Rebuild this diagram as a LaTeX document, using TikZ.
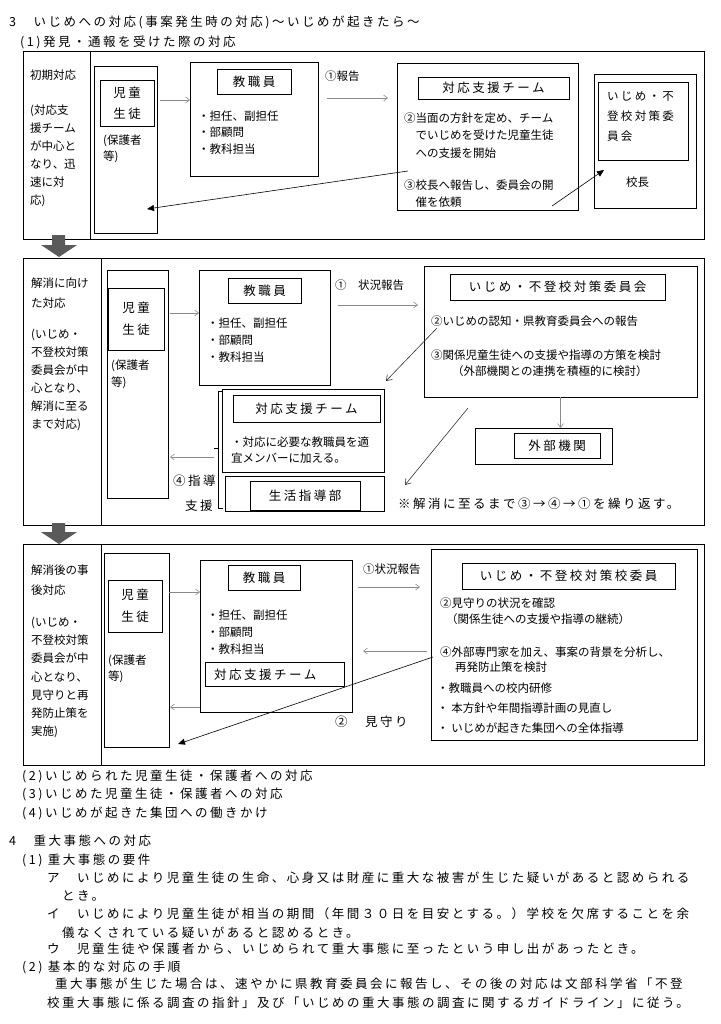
\documentclass[tikz,border=0pt]{standalone}
\usepackage{fontspec}
\setmainfont{Noto Sans CJK JP}
\newfontfamily\jpsp[LetterSpace=20]{Noto Sans CJK JP}
\newcommand{\boxfont}[1][18]{\fontsize{11.5}{#1}\selectfont}
\newcommand{\bodyfont}[1][18]{\jpsp\fontsize{12.5}{#1}\selectfont}
\usetikzlibrary{arrows.meta}
\definecolor{darkarrow}{HTML}{5A5A5A}
\definecolor{thinarrow}{HTML}{8A8A8A}

\begin{document}
\begin{tikzpicture}[x = 1pt, y = -1pt,
    box/.style = {draw, line width = 0.8pt, anchor = north west, inner sep = 0pt, outer sep = 0pt},
    head/.style = {box, font = \bodyfont},
    kid/.style = {box, align = left, font = {\bodyfont[21]}},
    body/.style = {anchor = base west, inner sep = 0pt, font = \bodyfont},
    small/.style = {anchor = base west, inner sep = 0pt, font = \boxfont},
    column/.style = {anchor = north west, inner sep = 0pt, align = left, font = \boxfont},
    grayarrow/.style = {-{Straight Barb[length = 4pt, width = 6pt]}, thinarrow, line width = 0.6pt},
    openarrow/.style = {-{Straight Barb[length = 5pt, width = 7pt]}, black!80, line width = 0.6pt},
    solidarrow/.style = {-{Triangle[length = 7pt, width = 6pt]}, line width = 0.6pt}]
    \useasboundingbox (0,0) rectangle (720,1024);

    \node[body] (title) at (9,27) {3　いじめへの対応(事案発生時の対応)～いじめが起きたら～};
    \node[body] (sub1) at (20,47) {(1)発見・通報を受けた際の対応};

    % first stage
    \node[box, minimum width = 681pt, minimum height = 188pt] (frameA) at (23,51) {};
    \draw[line width = 0.8pt] (90,51) -- (90,239);
    \node[small] (initA) at (30,80) {初期対応};
    \node[column] (noteA) at (30,104.5) {(対応支\\援チーム\\が中心と\\なり、迅\\速に対\\応)};
    \node[box, minimum width = 63pt, minimum height = 167pt] (stuA) at (94,66) {};
    \node[kid, minimum width = 54pt, minimum height = 46pt] (kidA) at (100,80) {児童\\生徒};
    \node[column, font = {\boxfont[16]}] (parA) at (103,134.5) {(保護者\\等)};
    \node[box, minimum width = 128pt, minimum height = 114pt] (tchA) at (190,62) {};
    \node[head, minimum width = 74pt, minimum height = 25pt] (tchAh) at (217,69) {教職員};
    \node[column, font = {\boxfont[16.5]}] (tchAl) at (198,110.5) {・担任、副担任\\・部顧問\\・教科担当};
    \node[small] (repA) at (325,81) {①報告};
    \node[box, minimum width = 181pt, minimum height = 147pt] (teamA) at (397,63) {};
    \node[head, minimum width = 151pt, minimum height = 22pt] (teamAh) at (418,77) {対応支援チーム};
    \node[column, font = {\boxfont[17.5]}] (teamAt) at (404,112.5) {②当面の方針を定め、チーム\\　でいじめを受けた児童生徒\\　への支援を開始};
    \node[column, font = {\boxfont[17.5]}] (teamAs) at (404,179.5) {③校長へ報告し、委員会の開\\　催を依頼};
    \node[box, minimum width = 102pt, minimum height = 134pt] (cmtA) at (594,74) {};
    \node[box, minimum width = 90pt, minimum height = 78pt] (cmtAin) at (598,82) {};
    \node[column, font = {\jpsp\fontsize{11.5}{20}\selectfont}] (cmtAt) at (607,91.5) {いじめ・不\\登校対策委\\員会};
    \node[small] (headA) at (626,187) {校長};
    \coordinate (fromA) at (408,171);
    \coordinate (toA) at (147,209);
    \coordinate (upA) at (552,206);
    \coordinate (tipA) at (604,170);
    \draw[grayarrow, shorten <= 3pt] (stuA.east |- 0,100) -- (tchA.west |- 0,100);
    \draw[grayarrow, shorten <= 9pt, shorten >= 9pt] (tchA.east |- 0,98) -- (teamA.west |- 0,98);
    \draw[solidarrow] (fromA) -- (toA);
    \draw[solidarrow] (upA) -- (tipA);

    \fill[darkarrow] (52,235) -- (65,235) -- (65,245) -- (77,245) -- (59,257) -- (41,245) -- (52,245) -- cycle;

    % second stage
    \node[box, minimum width = 681pt, minimum height = 267pt] (frameB) at (23,258) {};
    \draw[line width = 0.8pt] (101,258) -- (101,525);
    \node[column, font = {\boxfont[20]}] (initB) at (31,277.5) {解消に向け\\た対応};
    \node[column] (noteB) at (31,328.5) {(いじめ・\\不登校対策\\委員会が中\\心となり、\\解消に至る\\まで対応)};
    \node[box, minimum width = 61pt, minimum height = 228pt] (stuB) at (107,270) {};
    \node[kid, minimum width = 56pt, minimum height = 62pt, font = {\bodyfont[22]}] (kidB) at (108,288) {児童\\生徒};
    \node[column, font = {\boxfont[17]}] (parB) at (111,359.5) {(保護者\\等)};
    \node[box, minimum width = 131pt, minimum height = 115pt] (tchB) at (199,270) {};
    \node[head, minimum width = 73pt, minimum height = 25pt] (tchBh) at (228,278) {教職員};
    \node[column, font = {\boxfont[17]}] (tchBl) at (207,317.5) {・担任、副担任\\・部顧問\\・教科担当};
    \node[small] (repB) at (335,289) {①　状況報告};
    \node[box, minimum width = 273pt, minimum height = 131pt] (cmtB) at (424,266) {};
    \node[head, minimum width = 215pt, minimum height = 26pt] (cmtBh) at (450,274) {いじめ・不登校対策委員会};
    \node[small] (cmtB2) at (431,325) {②いじめの認知・県教育委員会への報告};
    \node[small] (cmtB3) at (431,359) {③関係児童生徒への支援や指導の方策を検討};
    \node[small] (cmtB4) at (452,375) {（外部機関との連携を積極的に検討）};
    \node[box, minimum width = 162pt, minimum height = 83pt] (teamB) at (222,389) {};
    \node[head, minimum width = 147pt, minimum height = 27pt] (teamBh) at (233,395) {対応支援チーム};
    \node[column, font = {\boxfont[16.5]}] (teamBt) at (231,436.5) {・対応に必要な教職員を適\\宜メンバーに加える。};
    \node[box, minimum width = 159pt, minimum height = 35pt] (shidoB) at (225,476) {};
    \node[head, minimum width = 110pt, minimum height = 29pt] (shidoBh) at (250,481) {生活指導部};
    \draw[line width = 0.6pt] (223,391) -- (218,391) -- (218,508) -- (223,508);
    \draw[line width = 0.6pt] (218,448) -- (214,448);
    \node[body] (guideB) at (173,485) {④指導};
    \node[body] (helpB) at (185,510) {支援};
    \node[box, minimum width = 137pt, minimum height = 36pt] (extB) at (475,428) {};
    \node[head, minimum width = 86pt, minimum height = 25pt] (extBh) at (514,433) {外部機関};
    \node[body] (loopB) at (398,508) {※解消に至るまで③→④→①を繰り返す。};
    \coordinate (fromB) at (437,328);
    \coordinate (toB) at (386,381);
    \coordinate (backB) at (468,408);
    \coordinate (loopto) at (405,485);
    \coordinate (brB) at (214,457);
    \draw[grayarrow, shorten <= 2pt] (stuB.east |- 0,313) -- (tchB.west |- 0,313);
    \draw[grayarrow, shorten <= 8pt, shorten >= 6pt] (tchB.east |- 0,305) -- (cmtB.west |- 0,305);
    \draw[grayarrow, shorten >= 2pt] (brB) -- (stuB.east |- brB);
    \draw[grayarrow] (cmtB.south) -- (cmtB.south |- extB.north);
    \draw[openarrow] (fromB) -- (toB);
    \draw[openarrow] (backB) -- (loopto);

    \fill[darkarrow] (52,523) -- (65,523) -- (65,532) -- (77,532) -- (59,544) -- (41,532) -- (52,532) -- cycle;

    % third stage
    \node[box, minimum width = 681pt, minimum height = 221pt] (frameC) at (23,544) {};
    \draw[line width = 0.8pt] (101,544) -- (101,765);
    \node[column, font = {\boxfont[20]}] (initC) at (31,564.5) {解消後の事\\後対応};
    \node[column, font = {\boxfont[18.3]}] (noteC) at (31,616.5) {(いじめ・\\不登校対策\\委員会が中\\心となり、\\見守りと再\\発防止策を\\実施)};
    \node[box, minimum width = 65pt, minimum height = 194pt] (stuC) at (104,553) {};
    \node[kid, minimum width = 54pt, minimum height = 52pt, font = {\bodyfont[22]}] (kidC) at (108,580) {児童\\生徒};
    \node[column, font = {\boxfont[16]}] (parC) at (108,654.5) {(保護者\\等)};
    \node[box, minimum width = 152pt, minimum height = 152pt] (tchC) at (200,560) {};
    \node[head, minimum width = 72pt, minimum height = 25pt] (tchCh) at (228,565) {教職員};
    \node[column, font = {\boxfont[17]}] (tchCl) at (207,609.5) {・担任、副担任\\・部顧問\\・教科担当};
    \node[box, minimum width = 139pt, minimum height = 24pt] (teamC) at (205,662) {};
    \node[body] (teamCt) at (214,679) {対応支援チーム};
    \node[small] (repC) at (363,573) {①状況報告};
    \node[box, minimum width = 266pt, minimum height = 191pt] (cmtC) at (431,549) {};
    \node[head, minimum width = 213pt, minimum height = 26pt] (cmtCh) at (462,563) {いじめ・不登校対策校委員};
    \node[column, font = {\boxfont[16]}] (cmtC2) at (440,597.5) {②見守りの状況を確認\\\hspace*{6pt}（関係生徒への支援や指導の継続）};
    \node[column, font = {\boxfont[15.5]}] (cmtC4) at (440,646.5) {④外部専門家を加え、事案の背景を分析し、\\\hspace*{15pt}再発防止策を検討};
    \node[column, font = {\boxfont[20]}] (cmtC5) at (437,682.5) {・教職員への校内研修\\・ 本方針や年間指導計画の見直し\\・ いじめが起きた集団への全体指導};
    \node[body] (watchC) at (335,726) {②　見守り};
    \coordinate (fromC) at (433,657);
    \coordinate (toC) at (178,744);
    \draw[grayarrow] (stuC.east |- 0,592) -- (tchC.west |- 0,592);
    \draw[grayarrow, shorten <= 6pt, shorten >= 11pt] (tchC.east |- 0,587) -- (cmtC.west |- 0,587);
    \draw[grayarrow, shorten <= 4pt, shorten >= 11pt] (cmtC.west |- 0,651) -- (tchC.east |- 0,651);
    \draw[grayarrow, shorten >= 1pt] (tchC.west |- 0,707) -- (stuC.east |- 0,707);
    \draw[solidarrow] (fromC) -- (toC);

    % notes below
    \node[body] (sub2) at (22,780) {(2)いじめられた児童生徒・保護者への対応};
    \node[body] (sub3) at (22,798) {(3)いじめた児童生徒・保護者への対応};
    \node[body] (sub4) at (22,817) {(4)いじめが起きた集団への働きかけ};
    \node[body] (title4) at (9,845) {4　重大事態への対応};
    \node[body] (req) at (22,864) {(1) 重大事態の要件};
    \node[body] (reqA) at (47,882) {ア　いじめにより児童生徒の生命、心身又は財産に重大な被害が生じた疑いがあると認められる};
    \node[body] (reqA2) at (62,900) {とき。};
    \node[body] (reqI) at (47,918) {イ　いじめにより児童生徒が相当の期間（年間３０日を目安とする。）学校を欠席することを余};
    \node[body] (reqI2) at (62,937) {儀なくされている疑いがあると認めるとき。};
    \node[body] (reqU) at (47,953) {ウ　児童生徒や保護者から、いじめられて重大事態に至ったという申し出があったとき。};
    \node[body] (proc) at (22,971) {(2) 基本的な対応の手順};
    \node[body] (proc1) at (55,988) {重大事態が生じた場合は、速やかに県教育委員会に報告し、その後の対応は文部科学省「不登};
    \node[body] (proc2) at (47,1007) {校重大事態に係る調査の指針」及び「いじめの重大事態の調査に関するガイドライン」に従う。};
\end{tikzpicture}
\end{document}
